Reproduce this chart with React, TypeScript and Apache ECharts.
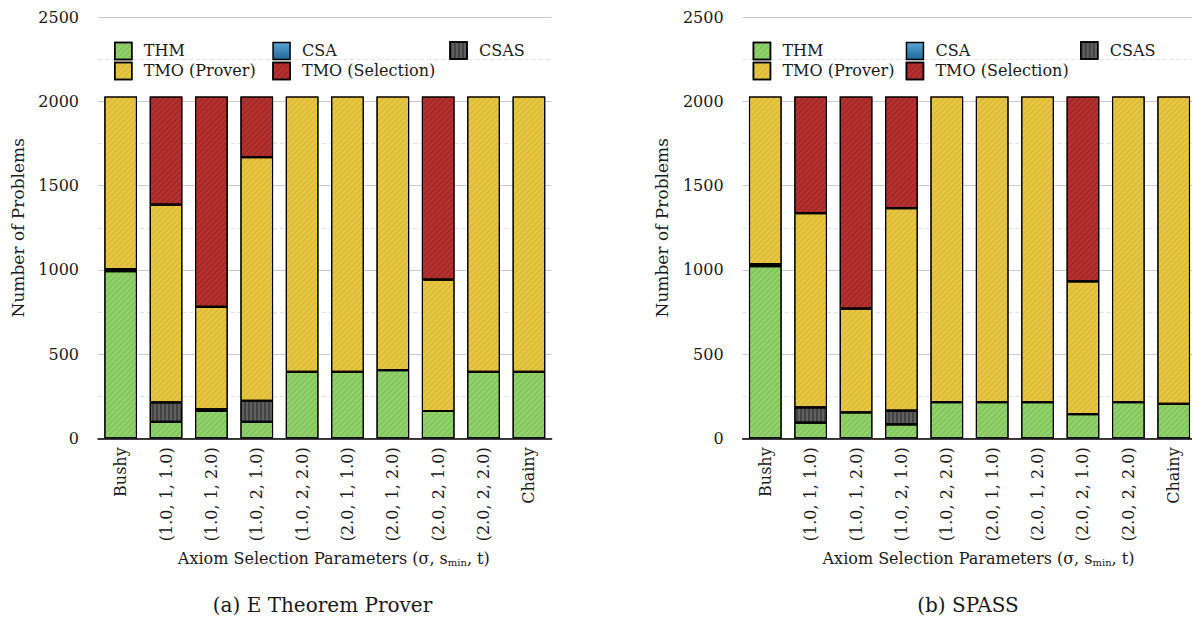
import React, { useEffect, useRef } from "react";
import * as echarts from "echarts";

const categories = [
  "Bushy",
  "(1.0, 1, 1.0)",
  "(1.0, 1, 2.0)",
  "(1.0, 2, 1.0)",
  "(1.0, 2, 2.0)",
  "(2.0, 1, 1.0)",
  "(2.0, 1, 2.0)",
  "(2.0, 2, 1.0)",
  "(2.0, 2, 2.0)",
  "Chainy",
];

const seriesNames = ["THM", "CSA", "CSAS", "TMO (Prover)", "TMO (Selection)"];

// E Theorem Prover
const eThm = [993, 98, 162, 98, 395, 395, 405, 162, 395, 395];
const eCsa = [0, 0, 0, 0, 0, 0, 0, 0, 0, 0];
const eCsas = [12, 115, 10, 125, 0, 0, 0, 0, 0, 0];
const eTmoProver = [1025, 1175, 608, 1447, 1635, 1635, 1625, 780, 1635, 1635];
const eTmoSelection = [0, 642, 1250, 360, 0, 0, 0, 1088, 0, 0];

// SPASS
const sThm = [1022, 93, 154, 83, 215, 215, 215, 144, 215, 205];
const sCsa = [0, 0, 0, 0, 0, 0, 0, 0, 0, 0];
const sCsas = [12, 91, 0, 81, 0, 0, 0, 0, 0, 0];
const sTmoProver = [996, 1153, 616, 1202, 1815, 1815, 1815, 788, 1815, 1825];
const sTmoSelection = [0, 693, 1260, 664, 0, 0, 0, 1098, 0, 0];

const yTicks = { min: 0, max: 2500, interval: 500 };

const FONT = "DejaVu Serif";
const TEXT = "#1a1a1a";
const FS = 16;

const styles: Record<string, any> = {
  THM: {
    color: "#93d46c",
    decal: {
      symbol: "rect",
      dashArrayX: [1, 0],
      dashArrayY: [2, 2],
      rotation: -Math.PI / 4,
      color: "rgba(60,120,30,0.18)",
    },
  },
  CSA: {
    color: new echarts.graphic.LinearGradient(0, 0, 0, 1, [
      { offset: 0, color: "#5aa6d6" },
      { offset: 1, color: "#1f6799" },
    ]),
  },
  CSAS: {
    color: "#606060",
    decal: {
      symbol: "rect",
      dashArrayX: [2, 2],
      dashArrayY: [1, 0],
      color: "rgba(0,0,0,0.3)",
    },
  },
  "TMO (Prover)": {
    color: "#e9c844",
    decal: {
      symbol: "rect",
      dashArrayX: [1, 0],
      dashArrayY: [2, 2],
      rotation: -Math.PI / 4,
      color: "rgba(150,110,0,0.15)",
    },
  },
  "TMO (Selection)": {
    color: "#b73331",
    decal: {
      symbol: "rect",
      dashArrayX: [1, 0],
      dashArrayY: [2, 2],
      rotation: -Math.PI / 4,
      color: "rgba(80,0,0,0.2)",
    },
  },
};

// empty segments are left out so they do not add stray borders
const toData = (vals: number[]) => vals.map((v) => (v === 0 ? "-" : v));

function buildSeries(gridIndex: number, stack: string, values: number[][]) {
  return seriesNames.map((name, i) => ({
    name,
    type: "bar",
    stack,
    xAxisIndex: gridIndex,
    yAxisIndex: gridIndex,
    barWidth: "72%",
    data: toData(values[i]),
    itemStyle: {
      ...styles[name],
      borderColor: "#000",
      borderWidth: 1.1,
    },
  }));
}

function buildLegends(positions: [number, number][]) {
  return seriesNames.map((name, i) => ({
    data: [name],
    left: positions[i][0],
    top: positions[i][1],
    padding: 0,
    itemWidth: 17,
    itemHeight: 17,
    icon: "rect",
    selectedMode: false,
    itemStyle: { borderWidth: 1.5 },
    textStyle: {
      fontFamily: FONT,
      fontSize: FS,
      color: TEXT,
      padding: [0, 0, 0, 7],
    },
  }));
}

const axisName = "{a|Axiom Selection Parameters (σ, s}{sub|min}{a|, t)}";

function xAxis(gridIndex: number) {
  return {
    type: "category",
    gridIndex,
    data: categories,
    axisLine: { lineStyle: { color: "#000", width: 1.5 } },
    axisTick: { show: false },
    axisLabel: {
      rotate: 90,
      margin: 9,
      fontFamily: FONT,
      fontSize: FS,
      color: TEXT,
    },
    name: axisName,
    nameLocation: "middle",
    nameGap: 112,
    nameTextStyle: {
      padding: [0, 0, 0, 18],
      rich: {
        a: { fontFamily: FONT, fontSize: FS, color: TEXT },
        sub: {
          fontFamily: FONT,
          fontSize: 10,
          color: TEXT,
          verticalAlign: "bottom",
          padding: [7, 0, 0, 0],
        },
      },
    },
  };
}

function yAxis(gridIndex: number) {
  return {
    type: "value",
    gridIndex,
    ...yTicks,
    axisLine: { show: false },
    axisTick: { show: false },
    axisLabel: {
      margin: 19,
      fontFamily: FONT,
      fontSize: FS,
      color: TEXT,
      formatter: (v: number) => String(v),
    },
    splitLine: { lineStyle: { color: "#cccccc", width: 1 } },
    minorTick: { show: false, splitNumber: 2 },
    minorSplitLine: {
      show: true,
      lineStyle: { color: "#e2e2e2", type: [4, 3], width: 1 },
    },
    name: "Number of Problems",
    nameLocation: "middle",
    nameGap: 72,
    nameTextStyle: { fontFamily: FONT, fontSize: 17, color: TEXT },
  };
}

export default function App() {
  const ref = useRef<HTMLDivElement>(null);

  useEffect(() => {
    if (!ref.current) return;
    const chart = echarts.init(ref.current, undefined, { renderer: "svg" });
    chart.setOption({
      animation: false,
      backgroundColor: "#ffffff",
      grid: [
        { left: 98, top: 17.3, width: 453.6, height: 421 },
        { left: 742.6, top: 17.3, width: 453.8, height: 421 },
      ],
      xAxis: [xAxis(0), xAxis(1)],
      yAxis: [yAxis(0), yAxis(1)],
      legend: [
        ...buildLegends([
          [114, 41.7],
          [272.3, 41.7],
          [449.3, 41.3],
          [114, 61.7],
          [272.3, 61.7],
        ]),
        ...buildLegends([
          [752.7, 41.7],
          [905.7, 41.7],
          [1080, 41.3],
          [752.7, 61.7],
          [905.7, 61.7],
        ]),
      ],
      series: [
        ...buildSeries(0, "e", [eThm, eCsa, eCsas, eTmoProver, eTmoSelection]),
        ...buildSeries(1, "s", [sThm, sCsa, sCsas, sTmoProver, sTmoSelection]),
      ],
      graphic: [
        {
          type: "text",
          x: 322.5,
          y: 605,
          style: {
            text: "(a) E Theorem Prover",
            fontFamily: FONT,
            fontSize: 20,
            fill: TEXT,
            align: "center",
            verticalAlign: "middle",
          },
        },
        {
          type: "text",
          x: 968,
          y: 605,
          style: {
            text: "(b) SPASS",
            fontFamily: FONT,
            fontSize: 20,
            fill: TEXT,
            align: "center",
            verticalAlign: "middle",
          },
        },
      ],
    });
    return () => chart.dispose();
  }, []);

  return (
    <div
      style={{
        position: "fixed",
        left: 0,
        top: 0,
        width: 1192,
        height: 624,
        overflow: "hidden",
        background: "#fff",
      }}
    >
      <div ref={ref} style={{ width: 1200, height: 624 }} />
    </div>
  );
}
